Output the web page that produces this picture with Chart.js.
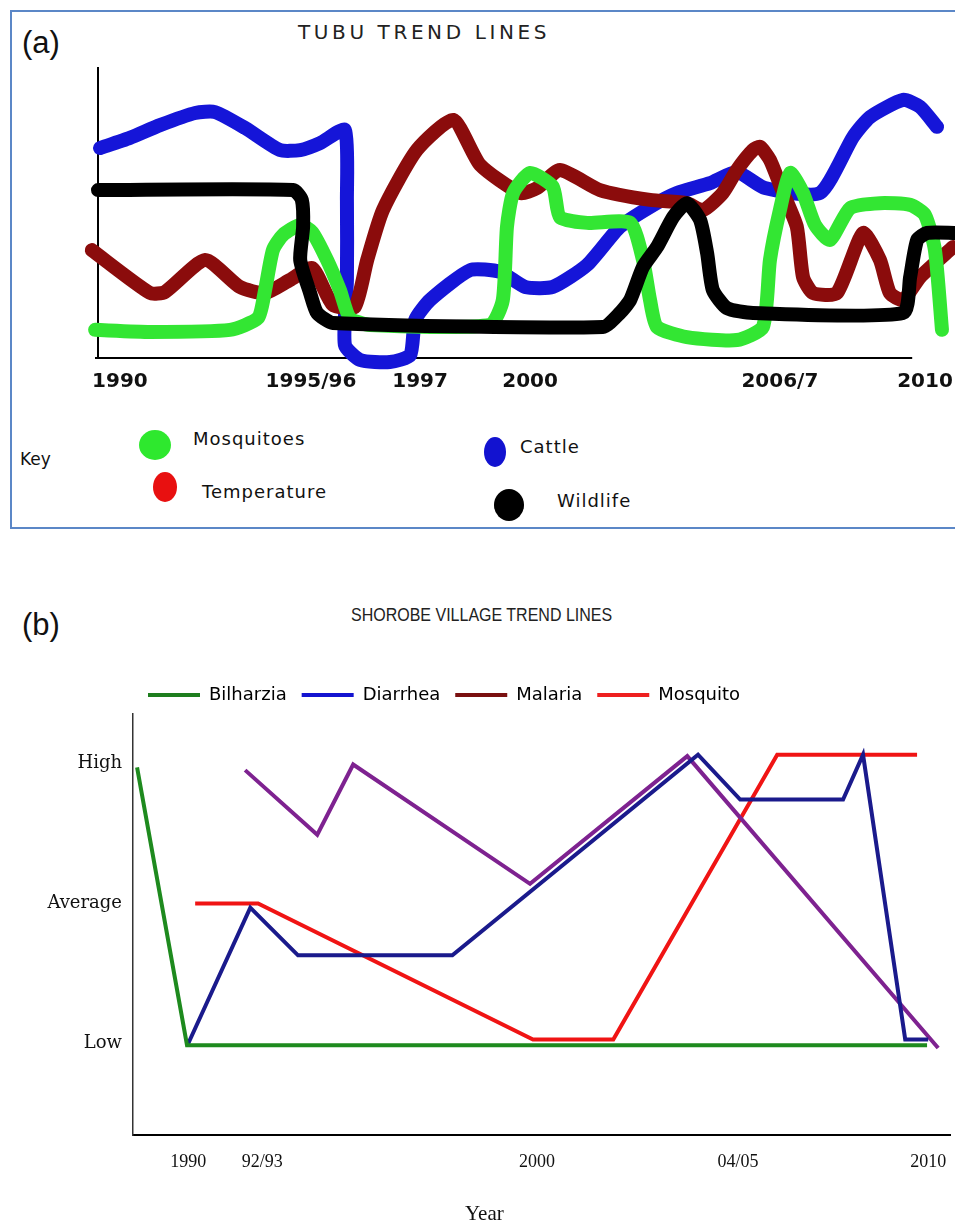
<!DOCTYPE html>
<html>
<head>
<meta charset="utf-8">
<script src="https://cdn.jsdelivr.net/npm/chart.js@4.4.0/dist/chart.umd.min.js"></script>
<style>
body{margin:0;width:955px;height:1224px;position:relative;overflow:hidden;background:#fff;font-family:"DejaVu Sans",sans-serif;color:#111}
.abs{position:absolute;white-space:nowrap}
#boxA{left:10px;top:10px;width:960px;height:515px;border:2px solid #5b87c7}
.panel{font-family:"Liberation Sans",Arial,sans-serif;font-size:31px}
#titleA{left:298px;top:20px;font-size:20px;letter-spacing:3.6px;color:#222}
#titleB{left:351px;top:606px;font-family:"Liberation Sans",Arial,sans-serif;font-size:16px;color:#222;transform:scaleY(1.12)}
#yearB{left:465px;top:1201px;font-family:"Liberation Serif",serif;font-size:21px;color:#111}
.key{font-size:18px;letter-spacing:1px}
.dot{border-radius:50%}
canvas{position:absolute;left:0}
</style>
</head>
<body>
<div id="boxA" class="abs"></div>
<div class="abs panel" style="left:22px;top:25px">(a)</div>
<div id="titleA" class="abs">TUBU TREND LINES</div>

<div class="abs key" style="left:20px;top:449px;font-size:17px;letter-spacing:0">Key</div>
<div class="abs dot" style="left:139px;top:430px;width:32px;height:30px;background:#2ee82e"></div>
<div class="abs key" style="left:193px;top:428px">Mosquitoes</div>
<div class="abs dot" style="left:153px;top:472px;width:24px;height:30px;background:#e81010"></div>
<div class="abs key" style="left:202px;top:481px">Temperature</div>
<div class="abs dot" style="left:484px;top:437px;width:22px;height:30px;background:#1212d0"></div>
<div class="abs key" style="left:520px;top:436px">Cattle</div>
<div class="abs dot" style="left:494px;top:489px;width:30px;height:32px;background:#000"></div>
<div class="abs key" style="left:557px;top:490px">Wildlife</div>

<div class="abs panel" style="left:22px;top:607px">(b)</div>
<div id="titleB" class="abs">SHOROBE VILLAGE TREND LINES</div>

<canvas id="tubuChart" width="1000" height="400" style="top:0"></canvas>
<canvas id="shorobeChart" width="1000" height="584" style="top:640px"></canvas>
<div id="yearB" class="abs">Year</div>

<script>
// ---------- (a) TUBU: x = year position on the drawn axis, y = relative level 0..10 ----------
const tubuTickLabels = ['1990', '1995/96', '1997', '2000', '2006/7', '2010'];
const tubuTickPos = [1990.53, 1995.15, 1997.79, 2000.45, 2006.49, 2010.0];
const tubuAxisEnd = 2009.69;   // drawn x axis stops short of the lines

const tubuCattle = [[1990.05,7.24],[1990.77,7.59],[1991.5,8.03],[1992.35,8.45],[1992.83,8.48],[1993.56,7.93],
  [1994.4,7.17],[1994.89,7.17],[1995.37,7.41],[1995.97,7.86],[1996.02,5.45],[1996.02,2.69],[1995.97,0.45],
  [1996.34,-0.07],[1997.06,-0.14],[1997.55,0.1],[1997.67,1.31],[1998.03,2.0],[1999.0,3.03],[1999.72,2.97],
  [2000.33,2.45],[2001.0,2.45],[2001.83,3.21],[2002.62,4.52],[2003.35,5.21],[2004.0,5.69],[2004.8,6.03],
  [2005.45,6.41],[2006.13,5.86],[2007.46,5.69],[2008.26,7.62],[2008.67,8.31],[2009.47,8.9],[2009.88,8.66],[2010.29,7.97]];
const tubuTemperature = [[1989.85,3.72],[1991.26,2.24],[1991.62,2.28],[1992.59,3.38],[1993.43,2.45],[1994.04,2.24],
  [1994.64,2.69],[1995.18,3.1],[1995.68,1.83],[1996.21,1.76],[1996.51,3.38],[1996.89,5.1],[1997.71,7.17],
  [1998.59,8.21],[1999.24,6.66],[2000.21,5.69],[2000.62,5.86],[2001.17,6.48],[2002.14,5.79],[2003.35,5.45],
  [2004.24,5.34],[2004.63,5.1],[2005.11,5.69],[2005.45,6.48],[2005.84,7.17],[2006.01,7.28],[2006.25,6.83],
  [2006.57,5.69],[2006.9,4.52],[2007.05,2.79],[2007.29,2.24],[2007.87,2.24],[2008.5,4.31],[2008.91,3.38],
  [2009.15,2.24],[2009.47,2.0],[2009.88,2.79],[2010.68,3.83]];
const tubuMosquitoes = [[1989.93,0.97],[1991.26,0.9],[1993.19,0.97],[1993.87,1.38],[1994.04,2.34],[1994.23,3.72],
  [1994.47,4.24],[1994.89,4.59],[1995.18,4.34],[1995.54,3.38],[1995.85,2.34],[1996.09,1.38],[1996.58,1.14],
  [1999.48,1.14],[1999.79,2.0],[1999.89,4.52],[2000.04,5.69],[2000.45,6.38],[2001.0,5.9],[2001.17,4.86],
  [2001.83,4.66],[2002.87,4.66],[2003.18,3.38],[2003.35,2.0],[2003.52,1.07],[2004.24,0.72],[2005.45,0.62],
  [2006.08,1.07],[2006.25,3.38],[2006.49,5.1],[2006.74,6.38],[2007.05,5.69],[2007.34,4.59],[2007.7,4.07],
  [2008.19,5.17],[2008.91,5.34],[2009.64,5.28],[2010.0,4.93],[2010.24,3.72],[2010.41,0.97]];
const tubuWildlife = [[1990.0,5.79],[1994.72,5.79],[1994.93,5.45],[1994.96,4.52],[1994.89,3.38],[1995.13,2.24],
  [1995.3,1.55],[1995.68,1.21],[2002.21,1.07],[2002.62,1.55],[2002.87,2.0],[2003.18,3.14],[2003.52,3.83],
  [2003.91,4.86],[2004.24,5.34],[2004.56,4.76],[2004.73,3.62],[2004.87,2.34],[2005.21,1.72],[2005.84,1.55],
  [2009.47,1.55],[2009.64,2.79],[2009.81,4.07],[2010.05,4.31],[2010.73,4.31]];

function thick(label, data, color) {
    return {label: label, data: data, borderColor: color, backgroundColor: color,
        borderWidth: 14, pointRadius: 0, tension: 0.2, clip: false,
        borderCapStyle: 'round', borderJoinStyle: 'round'};
}

// x axis line of panel (a) ends before the plotted lines do
const shortAxis = {
    id: 'shortAxis',
    beforeDatasetsDraw(chart) {
        const ctx = chart.ctx, a = chart.chartArea, xs = chart.scales.x;
        ctx.save();
        ctx.strokeStyle = '#000';
        ctx.lineWidth = 2;
        ctx.beginPath();
        ctx.moveTo(a.left - 3, a.bottom);
        ctx.lineTo(xs.getPixelForValue(tubuAxisEnd), a.bottom);
        ctx.stroke();
        ctx.restore();
    }
};

let tubuChart = new Chart(document.getElementById('tubuChart'), {
    type: 'line',
    data: {
        // first dataset is drawn on top
        datasets: [
            thick('Wildlife', tubuWildlife, '#000000'),
            thick('Mosquitoes', tubuMosquitoes, '#33e633'),
            thick('Temperature', tubuTemperature, '#8b0c0c'),
            thick('Cattle', tubuCattle, '#1515d8')
        ]
    },
    plugins: [shortAxis],
    options: {
        responsive: false,
        animation: false,
        layout: {padding: {top: 68, right: 45, left: 0, bottom: 0}},
        elements: {line: {capBezierPoints: false}},
        plugins: {legend: {display: false}, tooltip: {enabled: false}},
        scales: {
            x: {
                type: 'linear', min: 1990, max: 2010.725,
                grid: {display: false, drawTicks: false},
                border: {display: false},
                afterBuildTicks: function(s) { s.ticks = tubuTickPos.map(v => ({value: v})); },
                afterFit: function(s) { s.height = 42; },
                ticks: {
                    autoSkip: false, maxRotation: 0, padding: 12, color: '#111',
                    font: {family: 'DejaVu Sans', size: 20, weight: 'bold'},
                    callback: function(v, i) { return tubuTickLabels[i]; }
                }
            },
            y: {
                min: 0, max: 10,
                grid: {display: false, drawTicks: false},
                border: {display: true, color: '#000', width: 2},
                ticks: {display: false},
                afterFit: function(s) { s.width = 98; }
            }
        }
    }
});

// ---------- (b) SHOROBE: y 1 = Low, 2 = Average, 3 = High ----------
const levelNames = {1: 'Low', 2: 'Average', 3: 'High'};
const shorobeTickLabels = ['1990', '92/93', '2000', '04/05', '2010'];
const shorobeTickPos = [1990, 1992.0, 1999.43, 2004.86, 2010.0];

const bilharzia = [[1988.62,2.97],[1989.97,0.99],[2009.97,0.99]];
const diarrhea = [[1990.0,1.0],[1991.68,1.97],[1992.97,1.63],[1997.14,1.63],[2003.78,3.06],[2004.92,2.74],
  [2007.7,2.74],[2008.24,3.06],[2009.38,1.03],[2010.0,1.03]];
const malaria = [[1991.54,2.95],[1993.49,2.49],[1994.46,2.99],[1999.24,2.14],[2003.49,3.05],[2010.27,0.97]];
const mosquito = [[1990.19,2.0],[1991.89,2.0],[1999.32,1.03],[2001.49,1.03],[2005.92,3.06],[2009.7,3.06]];

const seriesNames = ['Bilharzia', 'Diarrhea', 'Malaria', 'Mosquito'];
const lineColors = ['#1e8a1e', '#1a1a8c', '#7e2290', '#f01414'];
const keyColors = ['#1e7e1e', '#1414d0', '#7a1010', '#ee2020'];
const shorobeData = [bilharzia, diarrhea, malaria, mosquito];

let shorobeChart = new Chart(document.getElementById('shorobeChart'), {
    type: 'line',
    data: {
        datasets: shorobeData.map((d, i) => ({
            label: seriesNames[i], data: d,
            borderColor: lineColors[i], backgroundColor: keyColors[i],
            borderWidth: 4, pointRadius: 0, tension: 0, clip: false
        }))
    },
    options: {
        responsive: false,
        animation: false,
        layout: {padding: {top: 31, right: 50, left: 0, bottom: 0}},
        plugins: {
            tooltip: {enabled: false},
            legend: {
                position: 'top', align: 'start', fullSize: false,
                labels: {
                    boxWidth: 52, boxHeight: 4, padding: 15, color: '#111',
                    font: {family: 'DejaVu Sans', size: 18},
                    generateLabels: function(chart) {
                        return seriesNames.map((n, i) => ({
                            text: n, fillStyle: keyColors[i], strokeStyle: keyColors[i],
                            lineWidth: 0, datasetIndex: i, hidden: false
                        }));
                    }
                }
            }
        },
        scales: {
            x: {
                type: 'linear', min: 1988.51, max: 2010.59,
                grid: {display: false, drawTicks: false},
                border: {display: true, color: '#000', width: 2},
                afterBuildTicks: function(s) { s.ticks = shorobeTickPos.map(v => ({value: v})); },
                afterFit: function(s) { s.height = 89; },
                ticks: {
                    autoSkip: false, maxRotation: 0, padding: 16, color: '#111',
                    font: {family: 'Liberation Serif', size: 18},
                    callback: function(v, i) { return shorobeTickLabels[i]; }
                }
            },
            y: {
                min: 0.35, max: 3.35,
                grid: {display: false, drawTicks: false},
                border: {display: true, color: '#333', width: 1.5},
                afterBuildTicks: function(s) { s.ticks = [1, 2, 3].map(v => ({value: v})); },
                afterFit: function(s) { s.width = 133; },
                ticks: {
                    padding: 11, color: '#111',
                    font: {family: '"DejaVu Serif"', size: 18},
                    callback: function(v) { return levelNames[v]; }
                }
            }
        }
    }
});
</script>
</body>
</html>
